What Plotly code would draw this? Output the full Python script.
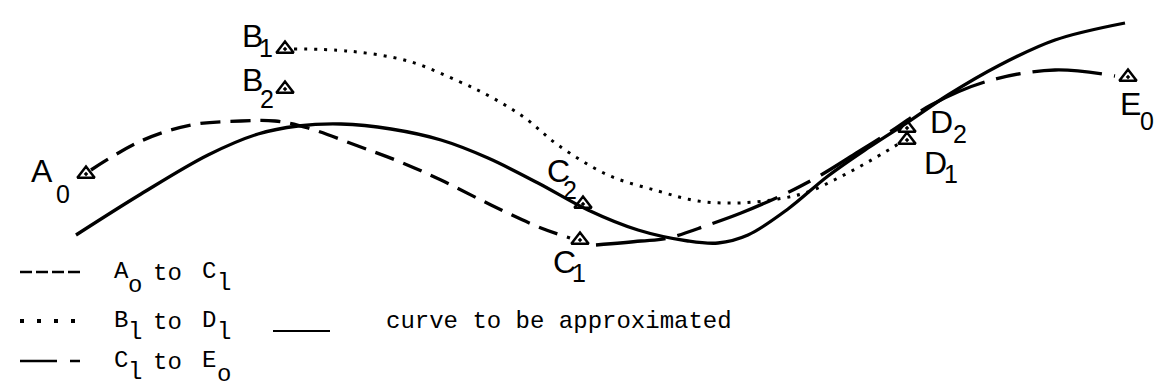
import plotly.graph_objects as go

W, H = 1163, 388

# curve to be approximated (solid)
solid_x = [68, 133, 200, 250, 290, 333, 383, 433, 480, 530, 580, 630, 680, 710, 740, 780, 820, 860, 900, 940, 990, 1047, 1117]
solid_y = [227, 186, 147, 126, 118, 116, 121, 132, 150, 175, 202, 222, 233, 235, 227, 201, 168, 140, 114, 87, 58, 32, 15]

# A0 to C1 (dashed)
ac_x = [83, 133, 183, 233, 267, 300, 350, 390, 433, 483, 533, 562]
ac_y = [162, 133, 117, 113, 113, 120, 138, 153, 172, 197, 220, 230]

# B1 to D1 (dotted)
bd_x = [286, 340, 400, 450, 483, 517, 550, 600, 650, 690, 730, 770, 800, 830, 860, 892]
bd_y = [41, 43, 53, 73, 89, 110, 137, 167, 183, 193, 195, 191, 184, 170, 154, 135]

# C1 to E0 (long-short dash)
ce_x = [588, 633, 660, 700, 733, 783, 813, 850, 885, 923, 980, 1047, 1107]
ce_y = [237, 233, 230, 217, 205, 183, 167, 144, 122, 97, 73, 62, 68]

# control points (triangles)
pt_x = [78, 277, 277, 575, 572, 899, 899, 1120]
pt_y = [166, 41, 81, 196, 232, 120, 132, 69]
pt_main = ["A", "B", "B", "C", "C", "D", "D", "E"]
pt_sub = ["0", "1", "2", "2", "1", "2", "1", "0"]
lab_x = [34, 244, 244, 550, 556, 933, 927, 1122]
lab_y = [163, 28, 72, 163, 254, 114, 155, 96]
sub_x = [55, 258, 259, 562, 571, 952, 943, 1139]
sub_y = [186, 40, 91, 182, 265, 126, 166, 113]

legend_main = [["A", "to", "C"], ["B", "to", "D"], ["C", "to", "E"]]
legend_sub = [["o", "l"], ["l", "l"], ["l", "o"]]
solid_label = "curve to be approximated"

fig = go.Figure()
ink = "black"
fig.add_trace(go.Scatter(x=solid_x, y=solid_y, mode="lines", line=dict(color=ink, width=3.3, shape="spline", smoothing=1.0)))
fig.add_trace(go.Scatter(x=ac_x, y=ac_y, mode="lines", line=dict(color=ink, width=3.3, shape="spline", dash="20px,10px")))
fig.add_trace(go.Scatter(x=bd_x, y=bd_y, mode="lines", line=dict(color=ink, width=3, shape="spline", dash="3px,7px")))
fig.add_trace(go.Scatter(x=ce_x, y=ce_y, mode="lines", line=dict(color=ink, width=3.3, shape="spline", dash="70px,12px,25px,12px")))
fig.add_trace(go.Scatter(x=pt_x, y=pt_y, mode="markers",
                         marker=dict(symbol="triangle-up-open-dot", size=15, color=ink, line=dict(width=2.5, color=ink))))

lab_font = dict(family="Liberation Sans, DejaVu Sans", size=32, color=ink)
sub_font = dict(family="Liberation Sans, DejaVu Sans", size=25, color=ink)
for i in range(len(pt_main)):
    fig.add_annotation(x=lab_x[i], y=lab_y[i], text=pt_main[i], showarrow=False, font=lab_font,
                       xanchor="center", yanchor="middle")
    fig.add_annotation(x=sub_x[i], y=sub_y[i], text=pt_sub[i], showarrow=False, font=sub_font,
                       xanchor="center", yanchor="middle")

# legend
mono = dict(family="Liberation Mono, Courier New, monospace", size=24, color=ink)
rows_y = [264, 313, 353]
styles = [dict(dash="12px,4px", width=2.5), dict(dash="4px,13px", width=4), dict(dash="37px,13px,12px,100px", width=2.5)]
for r, yy in enumerate(rows_y):
    fig.add_shape(type="line", x0=12, x1=72, y0=yy, y1=yy, xref="x", yref="y",
                  line=dict(color=ink, **styles[r]))
    m = legend_main[r]
    s = legend_sub[r]
    fig.add_annotation(x=104, y=yy - 1, text=m[0], showarrow=False, font=mono, xanchor="left", yanchor="middle")
    fig.add_annotation(x=118, y=yy + (13 if s[0] == "o" else 11), text=s[0], showarrow=False, font=mono,
                       xanchor="left", yanchor="middle")
    fig.add_annotation(x=143, y=yy + 1, text=m[1], showarrow=False, font=mono, xanchor="left", yanchor="middle")
    fig.add_annotation(x=192, y=yy - 1, text=m[2], showarrow=False, font=mono, xanchor="left", yanchor="middle")
    fig.add_annotation(x=207, y=yy + (13 if s[1] == "o" else 11), text=s[1], showarrow=False, font=mono,
                       xanchor="left", yanchor="middle")

fig.add_shape(type="line", x0=265, x1=322, y0=323, y1=323, xref="x", yref="y", line=dict(color=ink, width=2))
fig.add_annotation(x=376, y=313, text=solid_label, showarrow=False, font=mono, xanchor="left", yanchor="middle")

fig.update_layout(width=W, height=H, margin=dict(l=0, r=0, t=0, b=0), showlegend=False,
                  paper_bgcolor="white", plot_bgcolor="white")
fig.update_xaxes(range=[0, W], visible=False, fixedrange=True)
fig.update_yaxes(range=[H, 0], visible=False, fixedrange=True)
fig.write_html("out.html")
